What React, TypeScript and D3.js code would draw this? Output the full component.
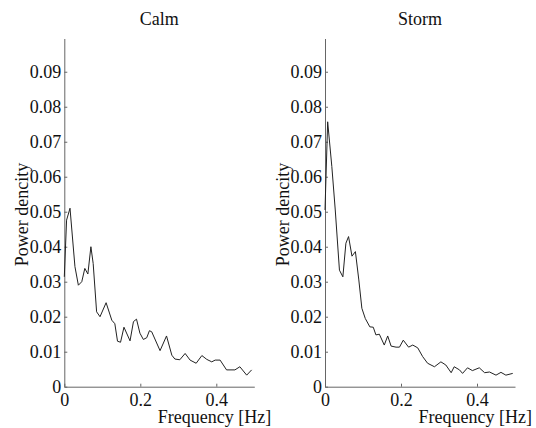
import * as d3 from "d3";
import { useEffect, useRef } from "react";

// calm spectrum
const calmFreq = [0, 0.006, 0.015, 0.028, 0.037, 0.046, 0.054, 0.062, 0.07, 0.076, 0.085, 0.094, 0.11, 0.125, 0.133, 0.14, 0.148, 0.157, 0.173, 0.182, 0.19, 0.199, 0.208, 0.217, 0.224, 0.23, 0.252, 0.269, 0.283, 0.291, 0.304, 0.318, 0.331, 0.347, 0.362, 0.375, 0.388, 0.397, 0.41, 0.427, 0.449, 0.462, 0.48, 0.493];
const calmPower = [0.0314, 0.0476, 0.051, 0.0343, 0.029, 0.03, 0.0338, 0.0322, 0.04, 0.0352, 0.0214, 0.02, 0.024, 0.019, 0.018, 0.013, 0.0127, 0.017, 0.0131, 0.0186, 0.0193, 0.0153, 0.0135, 0.014, 0.016, 0.0157, 0.0103, 0.0145, 0.009, 0.0079, 0.0077, 0.0095, 0.0076, 0.0067, 0.0089, 0.0078, 0.0071, 0.0076, 0.0076, 0.0048, 0.0048, 0.0057, 0.0033, 0.0048];

// storm spectrum
const stormFreq = [0, 0.007, 0.018, 0.027, 0.038, 0.047, 0.055, 0.062, 0.071, 0.08, 0.089, 0.097, 0.106, 0.118, 0.127, 0.134, 0.143, 0.156, 0.165, 0.174, 0.187, 0.196, 0.206, 0.22, 0.231, 0.244, 0.257, 0.27, 0.288, 0.305, 0.318, 0.332, 0.34, 0.354, 0.362, 0.375, 0.388, 0.406, 0.42, 0.433, 0.45, 0.463, 0.476, 0.494];
const stormPower = [0.0505, 0.0757, 0.0629, 0.0505, 0.0333, 0.0314, 0.041, 0.0429, 0.0373, 0.0386, 0.0305, 0.0224, 0.0195, 0.0171, 0.017, 0.0148, 0.015, 0.0119, 0.0145, 0.0116, 0.0113, 0.0113, 0.0133, 0.0113, 0.0119, 0.0111, 0.0086, 0.0067, 0.0057, 0.0071, 0.0062, 0.004, 0.0057, 0.0048, 0.0038, 0.0054, 0.0046, 0.0054, 0.004, 0.0042, 0.0033, 0.0041, 0.0033, 0.0038];

const yTicks = [0, 0.01, 0.02, 0.03, 0.04, 0.05, 0.06, 0.07, 0.08, 0.09];
const xTicks = [0, 0.2, 0.4];

const panels = [
  { title: "Calm", freq: calmFreq, power: calmPower, left: 64.3 },
  { title: "Storm", freq: stormFreq, power: stormPower, left: 325 },
];

const App = () => {
  const ref = useRef(null);

  useEffect(() => {
    document.body.style.margin = "0";
    const svg = d3.select(ref.current);
    svg.selectAll("*").remove();

    const top = 38.5;
    const bottom = 386.7;
    const w = 190;
    const font = "'Liberation Serif', 'Times New Roman', serif";
    const fs = 18;

    panels.forEach((p) => {
      const x = d3.scaleLinear().domain([0, 0.5]).range([p.left, p.left + w]);
      const y = d3.scaleLinear().domain([0, 0.0995]).range([bottom, top]);

      const g = svg.append("g");

      // axes, ticks pointing inward
      const ya = g.append("g")
        .attr("transform", `translate(${p.left},0)`)
        .call(d3.axisLeft(y).tickValues(yTicks).tickSizeInner(-3).tickSizeOuter(0).tickPadding(3)
          .tickFormat((d) => (d === 0 ? "0" : d3.format(".2f")(d))));
      const xa = g.append("g")
        .attr("transform", `translate(0,${bottom})`)
        .call(d3.axisBottom(x).tickValues(xTicks).tickSizeInner(-3).tickSizeOuter(0).tickPadding(7)
          .tickFormat((d) => (d === 0 ? "0" : d3.format(".1f")(d))));

      [ya, xa].forEach((a) => {
        a.attr("font-family", font).attr("font-size", fs);
        a.selectAll("path").attr("stroke", "#666");
        a.selectAll("line").attr("stroke", "#666");
        a.selectAll("text").attr("fill", "#111");
      });

      const line = d3.line().x((d) => x(d[0])).y((d) => y(d[1]));
      g.append("path")
        .datum(p.freq.map((f, i) => [f, p.power[i]]))
        .attr("d", line)
        .attr("fill", "none")
        .attr("stroke", "#222")
        .attr("stroke-width", 1);

      g.append("text")
        .attr("x", p.left + w / 2)
        .attr("y", 25)
        .attr("text-anchor", "middle")
        .attr("font-family", font)
        .attr("font-size", fs)
        .attr("fill", "#111")
        .text(p.title);

      g.append("text")
        .attr("transform", `translate(${p.left - 36},${(top + bottom) / 2 + 2}) rotate(-90)`)
        .attr("text-anchor", "middle")
        .attr("font-family", font)
        .attr("font-size", fs)
        .attr("fill", "#111")
        .text("Power dencity");

      g.append("text")
        .attr("x", p.left + w + 17)
        .attr("y", 423)
        .attr("text-anchor", "end")
        .attr("font-family", font)
        .attr("font-size", fs)
        .attr("fill", "#111")
        .text("Frequency [Hz]");
    });
  }, []);

  return <svg ref={ref} width={536} height={428} style={{ display: "block", background: "#fff" }}></svg>;
};

export default App;
